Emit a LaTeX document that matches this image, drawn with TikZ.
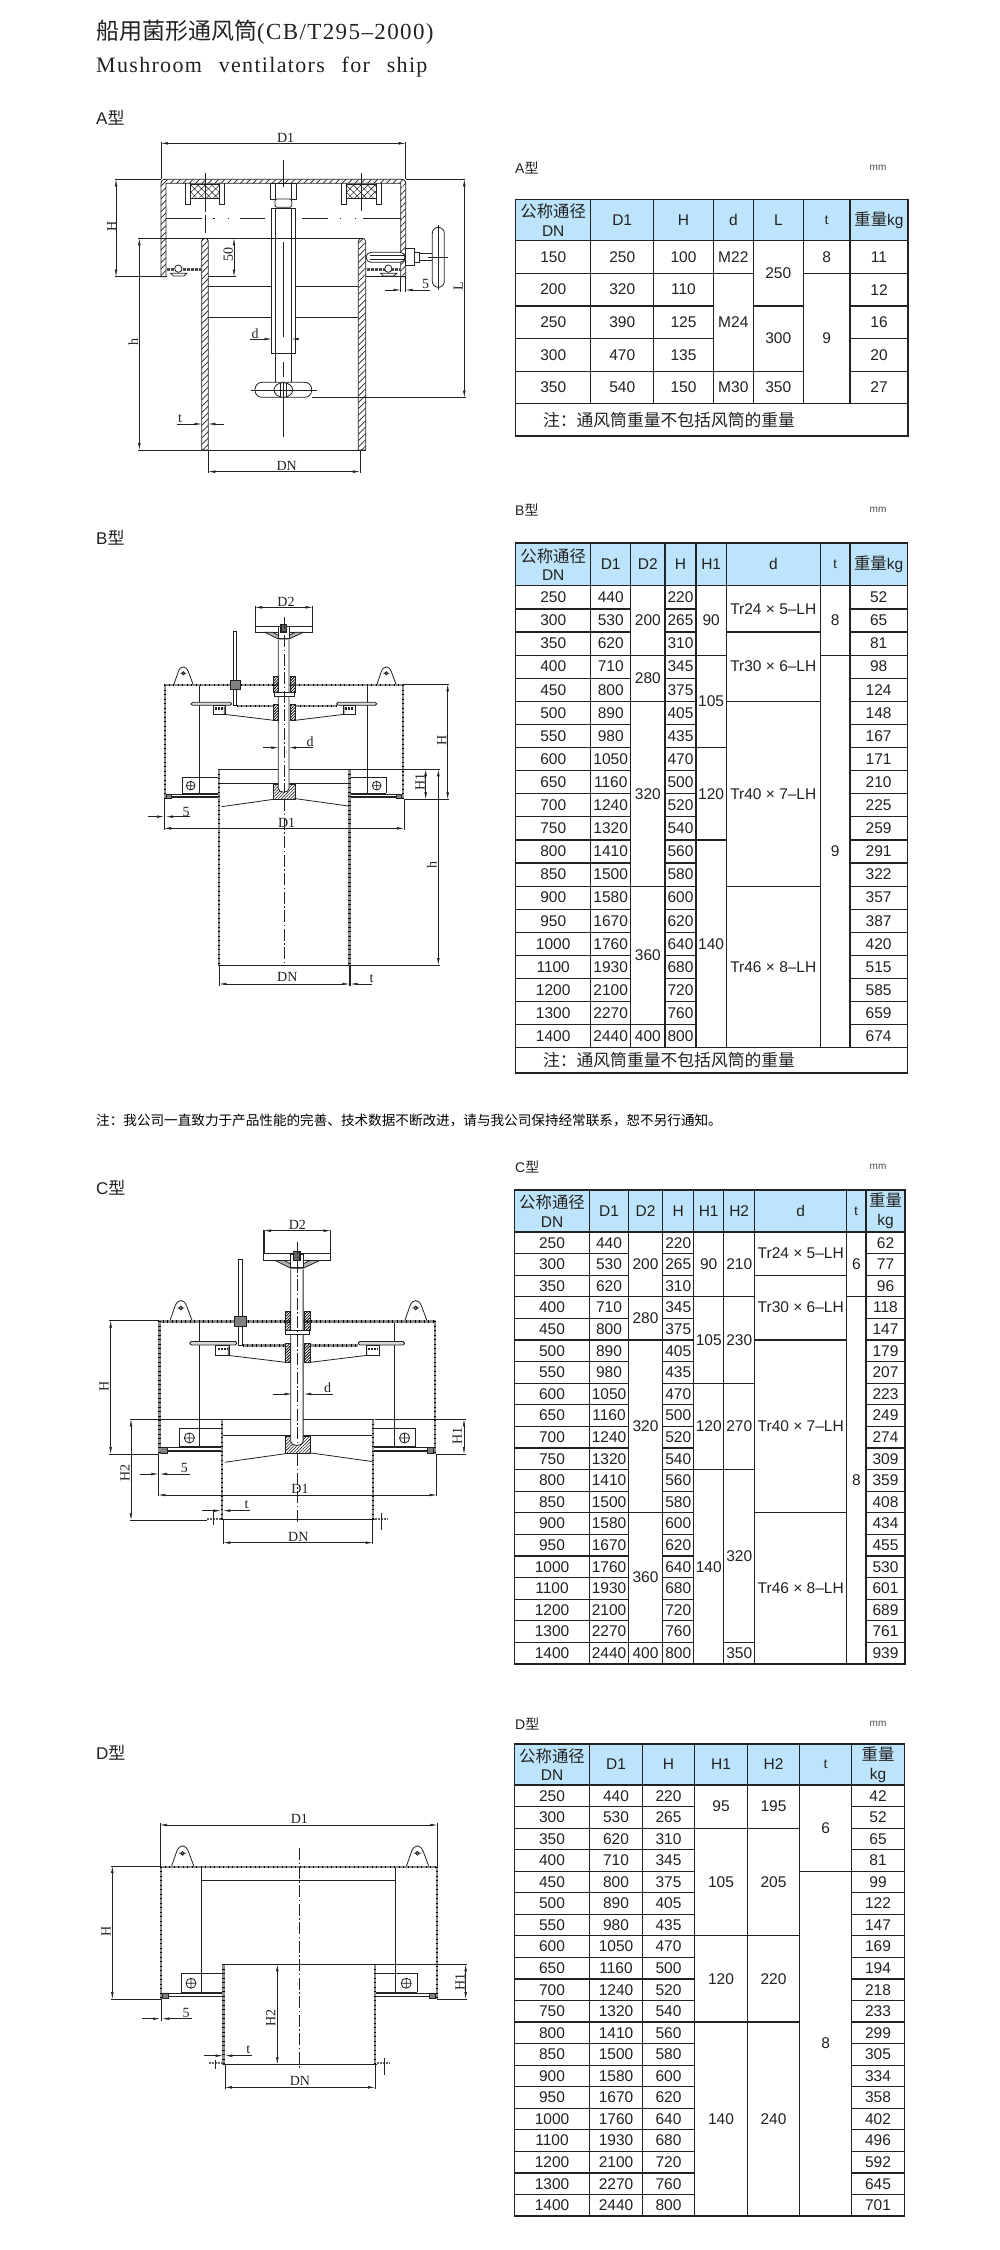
\documentclass[tikz,border=0pt]{standalone}
\usepackage{fontspec}
\usetikzlibrary{arrows.meta,patterns.meta}
\setmainfont{Liberation Sans}
\newfontfamily\cjkf{Noto Sans CJK SC}
\newfontfamily\serf{Liberation Serif}
\newfontfamily\serl[LetterSpace=6]{Liberation Serif}
\definecolor{dk}{HTML}{222222}
\definecolor{hdr}{HTML}{BDE4FA}
\newcommand\hcjk[1]{{\cjkf\fontsize{16.4}{18.5}\selectfont #1}}
\tikzset{
  tcell/.style={draw=dk,line width=1.2pt,inner sep=0pt,outer sep=0pt,align=center,text=dk,
     font=\fontsize{15.5}{18.5}\selectfont},
  ln/.style={line width=.8pt,draw=dk},
  thin1/.style={line width=.5pt,draw=dk},
  dimln/.style={line width=.5pt,draw=dk,{Latex[length=7pt,width=2.6pt]}-{Latex[length=7pt,width=2.6pt]}},
  dimin/.style={line width=.5pt,draw=dk,-{Latex[length=7pt,width=2.6pt]}},
  dimtxt/.style={inner sep=0pt,text=dk,font=\serf\fontsize{14}{14}\selectfont},
  lbl/.style={inner sep=0pt,text=dk,anchor=west,font=\fontsize{17}{17}\selectfont},
  mmt/.style={inner sep=0pt,text=black!70,font=\fontsize{10}{10}\selectfont},
  hatchA/.style={pattern={Lines[angle=45,distance=4.5pt,line width=.7pt]},pattern color=dk},
  hatchB/.style={pattern={Lines[angle=45,distance=2.2pt,line width=.6pt]},pattern color=dk},
  hatchX/.style={pattern={Hatch[angle=45,distance=5pt,line width=.5pt]},pattern color=dk},
  dotfill/.style={pattern={Lines[angle=45,distance=2pt,line width=.8pt]},pattern color=black},
  cline/.style={line width=.5pt,draw=dk,dash pattern=on 12pt off 2.5pt on 1.5pt off 2.5pt},
  wallb/.style={line width=2.3pt,draw=black!45},
  wallt/.style={line width=2.3pt,draw=black,dash pattern=on 1pt off 3.5pt},
}
\newcounter{cellno}
\newcounter{rowpos}
\newcommand\tbox[6][white]{%
  \stepcounter{cellno}%
  \pgfmathsetmacro\bw{#4-(#2)}\pgfmathsetmacro\bh{#5-(#3)}%
  \pgfmathsetmacro\bx{(#2+#4)/2}\pgfmathsetmacro\by{(#3+#5)/2}%
  \node[tcell,fill=#1,minimum width=\bw pt,minimum height=\bh pt] (cell\thecellno) at (\bx,\by) {#6};}
\newcommand\tcellat[4]{%
  \pgfmathsetmacro\xa{\tcols[#1]}\pgfmathsetmacro\xb{\tcols[#1+1]}%
  \pgfmathsetmacro\ya{\tbot+\trow*(#3)}\pgfmathsetmacro\yb{\tbot+\trow*(#3+#2)}%
  \tbox{\xa}{\ya}{\xb}{\yb}{#4}}
\newcommand\thd[2]{%
  \pgfmathsetmacro\xa{\tcols[#1]}\pgfmathsetmacro\xb{\tcols[#1+1]}%
  \tbox[hdr]{\xa}{\ttop}{\xb}{\tbot}{#2}}
\newcommand\tplain[2]{\edef\tmplist{#2}\foreach \txt [count=\ci from 0] in \tmplist {\tcellat{#1}{1}{\ci}{\txt}}}
\newcommand\tspan[2]{\setcounter{rowpos}{0}\foreach \spn/\txt in {#2}{%
  \tcellat{#1}{\spn}{\arabic{rowpos}}{\txt}\addtocounter{rowpos}{\spn}}}
\newcommand\tnotetext[2]{\stepcounter{cellno}\node[inner sep=0pt,text=dk,font=\cjkf\fontsize{16.8}{17}\selectfont] (note\thecellno) at (#1,#2) {注：通风筒重量不包括风筒的重量};}
\newcommand\dl[3]{\stepcounter{cellno}\node[dimtxt] (dl\thecellno) at (#1,#2) {#3};}
\newcommand\dr[3]{\stepcounter{cellno}\node[dimtxt,rotate=90] (dl\thecellno) at (#1,#2) {#3};}
\newcommand\dw[4]{\draw[wallb] (#1,#2)--(#3,#4);\draw[wallt] (#1,#2)--(#3,#4);}
\def\dnlist{250,300,350,400,450,500,550,600,650,700,750,800,850,900,950,1000,1100,1200,1300,1400}
\def\dilist{440,530,620,710,800,890,980,1050,1160,1240,1320,1410,1500,1580,1670,1760,1930,2100,2270,2440}
\def\hlist{220,265,310,345,375,405,435,470,500,520,540,560,580,600,620,640,680,720,760,800}
% hood shared by B, C, D, in the coordinates of drawing B; #1 shell bottom
\newcommand\venthood[1]{%
  \draw[ln] (247,700)--(247,652)--(353,652) (247,700)--(353,700);
  \draw[ln] (858,700)--(858,652)--(752,652) (858,700)--(752,700);
  \draw[ln] (272,677) circle[radius=13] (258,677)--(286,677) (272,663)--(272,691);
  \draw[ln] (830,677) circle[radius=13] (816,677)--(844,677) (830,663)--(830,691);
  \draw[ln] (298,378)--(298,700) (803,378)--(803,700);
  \draw[ln] (198,702)--(353,702) (752,702)--(905,702);
  \draw[line width=1.6pt,draw=dk] (205,711)--(353,711) (752,711)--(900,711);
  \draw[ln,fill=black!50] (198,702) rectangle (214,716) (890,702) rectangle (905,716);
  \foreach \lx in {250,859}{
    \draw[ln] (\lx-29,375)--(\lx-15,335) .. controls (\lx-8,316) and (\lx+8,316) .. (\lx+15,335)--(\lx+30,375);
    \draw[ln] (\lx,340) circle[radius=5] (\lx-9,340)--(\lx+9,340);
  }
  \dw{192}{375}{912}{375}
  \dw{195}{375}{195}{718}
  \dw{909}{375}{909}{718}
  \dw{356.5}{628}{356.5}{#1}
  \dw{748.5}{628}{748.5}{#1}
  \draw[ln] (353,628)--(752,628);
}
% operating gear shared by B, C
\newcommand\ventmech{%
  \draw[ln] (360,671)--(745,671);
  \draw[ln] (365,740)--(520,718) (745,738)--(587,716);
  \draw[ln,hatchB] (520,672) rectangle (587,718);
  \draw[ln,fill=white] (535,240)--(535,686) .. controls (535,700) and (567,700) .. (567,686)--(567,240);
  \draw[ln] (465,138)--(465,217) (638,138)--(638,217);
  \draw[ln] (465,198)--(638,198) (465,217)--(638,217);
  \draw[ln,fill=black!30] (495,217)--(535,237)--(567,237)--(610,217)--(585,217)--(567,226)--(535,226)--(518,217)--cycle;
  \draw[ln,fill=white] (535,200) rectangle (567,236);
  \draw[line width=1.2pt,draw=dk,fill=black!60] (543,194) rectangle (559,216);
  \draw[ln,fill=white] (400,215)--(400,436)--(409,436)--(409,215)--cycle;
  \draw[ln,fill=black!50] (390,361) rectangle (420,387);
  \draw[ln,dotfill] (520,350) rectangle (535,397) (570,350) rectangle (585,397);
  \draw[ln,fill=white] (522,397) rectangle (583,408);
  \dw{410}{437}{522}{437}
  \dw{585}{437}{710}{437}
  \draw[ln,fill=black!15,rounded corners=1.5pt] (273,427) rectangle (395,436);
  \draw[ln,fill=black!15,rounded corners=1.5pt] (710,427) rectangle (830,436);
  \draw[ln,fill=white] (339,437) rectangle (375,463) (730,437) rectangle (766,463);
  \draw[line width=2.4pt,draw=dk,dash pattern=on 2pt off 1pt] (345,446)--(370,446) (736,446)--(761,446);
  \draw[ln] (373,440)--(373,463)--(522,481) (732,440)--(732,463)--(585,481);
  \draw[ln,dotfill] (520,432) rectangle (535,482) (570,432) rectangle (585,482);
  \draw[cline] (552,170)--(552,695);
}
\begin{document}
\begin{tikzpicture}[x=1pt,y=-1pt]
\useasboundingbox (0,0) rectangle (1000,2250);
\fill[white] (0,0) rectangle (1000,2250);
% titles
\node[inner sep=0pt,anchor=west,text=dk] (title1) at (96,32)
  {\cjkf\fontsize{23}{23}\selectfont 船用菌形通风筒\serl\fontsize{23}{23}\selectfont(CB/T295–2000)};
\node[inner sep=0pt,anchor=west,text=dk] (title2) at (96,67)
  {\serl\fontsize{22}{22}\selectfont Mushroom\hspace{10pt} ventilators\hspace{10pt} for\hspace{10pt} ship};
\node[lbl] (la) at (96,118) {A{\cjkf 型}};
\node[lbl] (lb) at (96,538) {B{\cjkf 型}};
\node[lbl] (lc) at (96,1188) {C{\cjkf 型}};
\node[lbl] (ld) at (96,1753) {D{\cjkf 型}};
\node[inner sep=0pt,anchor=west,text=black,font=\cjkf\fontsize{13.6}{14}\selectfont] (globalnote) at (96,1120)
  {注：我公司一直致力于产品性能的完善、技术数据不断改进，请与我公司保持经常联系，恕不另行通知。};
% table captions
\foreach \nm/\ty in {A/168,B/510,C/1167,D/1724}{
  \node[lbl,font=\fontsize{14}{14}\selectfont] (cap\nm) at (515,\ty) {\nm{\cjkf 型}};
  \node[mmt] (mm\nm) at (878,\ty) {mm};
}
% ---------- table A
\def\tcols{{515.7,590.7,653.7,713.3,753.3,803.3,850,908}}
\def\ttop{199.3}\def\tbot{240.7}\def\trow{32.6}
\thd{0}{\hcjk{公称通径}\\DN}\thd{1}{D1}\thd{2}{H}\thd{3}{d}\thd{4}{L}\thd{5}{\serf t}\thd{6}{\hcjk{重量}kg}
\tplain{0}{150,200,250,300,350}
\tplain{1}{250,320,390,470,540}
\tplain{2}{100,110,125,135,150}
\tspan{3}{1/M22,3/M24,1/M30}
\tspan{4}{2/250,2/300,1/350}
\tspan{5}{1/8,4/9}
\tplain{6}{11,12,16,20,27}
\tbox{515.7}{403.7}{908}{436}{}
\tnotetext{669}{420}
% ---------- table B
\def\tcols{{515.7,590.7,630.7,665,696,726.3,820.3,850,907.3}}
\def\ttop{543}\def\tbot{585.8}\def\trow{23.1}
\thd{0}{\hcjk{公称通径}\\DN}\thd{1}{D1}\thd{2}{D2}\thd{3}{H}\thd{4}{H1}\thd{5}{d}\thd{6}{\serf t}\thd{7}{\hcjk{重量}kg}
\tplain{0}{\dnlist}
\tplain{1}{\dilist}
\tspan{2}{3/200,2/280,8/320,6/360,1/400}
\tplain{3}{\hlist}
\tspan{4}{3/90,4/105,4/120,9/140}
\tspan{5}{2/Tr24 × 5–LH,3/Tr30 × 6–LH,8/Tr40 × 7–LH,7/Tr46 × 8–LH}
\tspan{6}{3/8,17/9}
\tplain{7}{52,65,81,98,124,148,167,171,210,225,259,291,322,357,387,420,515,585,659,674}
\tbox{515.7}{1047.8}{907.3}{1073}{}
\tnotetext{669}{1060.5}
% ---------- table C
\def\tcols{{514.3,589.7,628.3,662.7,693.7,723.7,754.7,846.7,866,905}}
\def\ttop{1190}\def\tbot{1232}\def\trow{21.6}
\thd{0}{\hcjk{公称通径}\\DN}\thd{1}{D1}\thd{2}{D2}\thd{3}{H}\thd{4}{H1}\thd{5}{H2}\thd{6}{d}\thd{7}{\serf t}\thd{8}{\hcjk{重量}\\kg}
\tplain{0}{\dnlist}
\tplain{1}{\dilist}
\tspan{2}{3/200,2/280,8/320,6/360,1/400}
\tplain{3}{\hlist}
\tspan{4}{3/90,4/105,4/120,9/140}
\tspan{5}{3/210,4/230,4/270,8/320,1/350}
\tspan{6}{2/Tr24 × 5–LH,3/Tr30 × 6–LH,8/Tr40 × 7–LH,7/Tr46 × 8–LH}
\tspan{7}{3/6,17/8}
\tplain{8}{62,77,96,118,147,179,207,223,249,274,309,359,408,434,455,530,601,689,761,939}
% ---------- table D
\def\tcols{{514.3,589.7,642.3,694.7,747.3,799.7,851.7,904.3}}
\def\ttop{1744}\def\tbot{1785}\def\trow{21.55}
\thd{0}{\hcjk{公称通径}\\DN}\thd{1}{D1}\thd{2}{H}\thd{3}{H1}\thd{4}{H2}\thd{5}{\serf t}\thd{6}{\hcjk{重量}\\kg}
\tplain{0}{\dnlist}
\tplain{1}{\dilist}
\tplain{2}{\hlist}
\tspan{3}{2/95,5/105,4/120,9/140}
\tspan{4}{2/195,5/205,4/220,9/240}
\tspan{5}{4/6,16/8}
\tplain{6}{42,52,65,81,99,122,147,169,194,218,233,299,305,334,358,402,496,592,645,701}
% ---------- drawing A
\begin{scope}[x=.33333pt,y=-.33333pt]
  \draw[ln] (625,860)--(1075,860) (625,953)--(1075,953);
  \draw[thin1] (498,655)--(605,655) (720,655)--(795,655) (905,655)--(985,655) (1090,655)--(1202,655);
  \draw[thin1,dash pattern=on 1.5pt off 13pt] (640,655)--(700,655) (1020,655)--(1070,655);
  % hood
  \draw[ln,hatchA] (483,830)--(483,552) .. controls (483,542) and (487,538) .. (497,538)--(1203,538)
     .. controls (1213,538) and (1217,542) .. (1217,552)--(1217,830)--(1202,830)--(1202,550)--(498,550)--(498,830)--cycle;
  % seal holders
  \draw[ln] (555,550)--(555,612)--(570,612)--(570,550) (657,550)--(657,612)--(672,612)--(672,550);
  \draw[ln,hatchX] (570,553) rectangle (657,595);
  \draw[ln] (1025,550)--(1025,612)--(1040,612)--(1040,550) (1130,550)--(1130,612)--(1145,612)--(1145,550);
  \draw[ln,hatchX] (1040,553) rectangle (1130,595);
  \draw[thin1] (615,520)--(615,635) (615,645)--(615,700) (1085,520)--(1085,632);
  % shell
  \draw[ln,hatchA] (605,1350)--(605,724) .. controls (605,712) and (625,712) .. (625,724)--(625,1350)--cycle;
  \draw[ln,hatchA] (1075,1350)--(1075,724) .. controls (1075,712) and (1097,712) .. (1097,724)--(1097,1350)--cycle;
  % seals
  \draw[line width=3pt,draw=black!70,dash pattern=on 3pt off 1pt] (500,810)--(603,810) (1100,810)--(1200,810);
  \draw[ln,fill=white] (535,806) circle[radius=11] (1165,806) circle[radius=11];
  \draw[ln] (512,820)--(560,820)--(552,828)--(520,828)--cycle (1142,820)--(1190,820)--(1182,828)--(1150,828)--cycle;
  \draw[ln] (1097,830)--(1217,830);
  % central gear
  \draw[ln,fill=white] (827,1060) rectangle (873,1150);
  \draw[ln,fill=white] (815,625) rectangle (887,1060);
  \draw[ln] (827,625)--(827,1060) (875,625)--(875,1060);
  \draw[ln,fill=white] (810,550) rectangle (890,597);
  \draw[ln] (825,550)--(825,597) (875,550)--(875,597);
  \draw[ln,fill=white,rounded corners=2pt] (825,597) rectangle (875,622);
  \draw[ln,fill=white,rounded corners=7pt] (765,1147) rectangle (935,1192);
  \draw[ln,fill=white] (850,1170) ellipse[x radius=28,y radius=22];
  \draw[ln] (840,1150)--(840,1190) (860,1150)--(860,1190);
  \draw[thin1] (752,1170)--(952,1170);
  \draw[thin1] (850,480)--(850,560) (850,725)--(850,1010) (850,1085)--(850,1130) (850,1145)--(850,1310);
  % side handle
  \draw[ln,fill=white] (1258,760) rectangle (1305,782);
  \draw[ln,fill=white,rounded corners=5pt] (1098,757) rectangle (1215,787);
  \draw[ln] (1110,766)--(1215,766) (1110,778)--(1215,778);
  \draw[ln,fill=white] (1215,745) rectangle (1242,795);
  \draw[ln,fill=white] (1242,757) rectangle (1258,787);
  \draw[ln,fill=white,rounded corners=6pt] (1297,682) rectangle (1333,862);
  \draw[thin1] (1315,675)--(1315,870) (1285,772)--(1345,772);
  % dimensions
  \draw[ln] (415,715)--(1090,715) (415,1350)--(1097,1350);
  \draw[thin1] (345,538)--(483,538) (1217,538)--(1395,538);
  \draw[thin1] (345,830)--(500,830) (625,830)--(708,830);
  \draw[thin1] (483,425)--(483,538) (1217,425)--(1217,538) (1217,830)--(1217,875) (1202,830)--(1202,875);
  \draw[thin1] (935,1193)--(1397,1193);
  \draw[dimln] (483,430)--(1217,430);
  \dl{857}{415}{D1}
  \draw[dimln] (348,538)--(348,830);
  \dr{335}{680}{H}
  \draw[dimln] (418,715)--(418,1350);
  \dr{400}{1025}{h}
  \draw[dimln] (702,715)--(702,830);
  \dr{685}{765}{50}
  \draw[dimln] (1393,538)--(1393,1193);
  \dr{1375}{860}{L}
  \draw[dimin] (1155,870)--(1202,870);
  \draw[dimin] (1265,870)--(1217,870);
  \dl{1277}{852}{5}
  \draw[thin1] (1265,870)--(1290,870);
  \draw[dimin] (530,1272)--(605,1272);
  \draw[dimin] (672,1272)--(625,1272);
  \dl{540}{1255}{t}
  \draw[dimin] (750,1017)--(815,1017);
  \draw[dimin] (890,1017)--(875,1017);
  \dl{765}{1000}{d}
  \draw[thin1] (625,1350)--(625,1420) (1080,1350)--(1080,1420);
  \draw[dimln] (625,1415)--(1080,1415);
  \dl{860}{1398}{DN}
\end{scope}
% ---------- drawing B
\begin{scope}[shift={(100,560)},x=.33333pt,y=-.33333pt]
  \venthood{1215}
  \ventmech
  \draw[cline] (552,718)--(552,1215);
  \draw[ln] (353,1215)--(1020,1215);
  \draw[thin1] (752,628)--(1020,628) (912,373)--(1048,373) (912,718)--(1048,718);
  \draw[thin1] (192,718)--(192,810) (912,718)--(912,810);
  \draw[thin1] (358,1215)--(358,1278) (748,1215)--(748,1278) (752,1215)--(752,1278);
  \draw[dimln] (465,142)--(638,142);
  \dl{558}{125}{D2}
  \draw[dimln] (1043,373)--(1043,718);
  \dr{1025}{540}{H}
  \draw[dimln] (977,628)--(977,718);
  \dr{960}{665}{H1}
  \draw[dimln] (1015,628)--(1015,1215);
  \dr{995}{915}{h}
  \draw[dimin] (490,563)--(535,563);
  \draw[dimin] (640,563)--(567,563);
  \dl{630}{545}{d}
  \draw[dimin] (145,770)--(192,770);
  \draw[dimin] (250,770)--(198,770);
  \draw[thin1] (250,770)--(270,770);
  \dl{258}{755}{5}
  \draw[dimln] (192,805)--(912,805);
  \dl{560}{788}{D1}
  \draw[dimln] (358,1272)--(748,1272);
  \dl{562}{1252}{DN}
  \draw[dimin] (815,1272)--(752,1272);
  \dl{815}{1255}{t}
\end{scope}
% ---------- drawing C
\begin{scope}[shift={(297.33,1320.67)},x=.38567pt,y=-.38567pt]
\begin{scope}[shift={(-552,-373)}]
  \venthood{888}
  \ventmech
\end{scope}
\end{scope}
\begin{scope}[shift={(80,1170)},x=.33333pt,y=-.33333pt]
  \draw[cline] (652,852)--(652,1060);
  \draw[line width=1.2pt,draw=dk] (422,1048)--(885,1048);
  \draw[line width=2.2pt,draw=black!60,dash pattern=on 2pt off 1pt] (382,1046)--(422,1046) (885,1046)--(925,1046);
  \draw[thin1] (400,1020)--(400,1065) (905,1028)--(905,1080);
  \draw[thin1] (88,452)--(235,452) (88,852)--(235,852) (150,748)--(422,748) (885,748)--(1158,748) (1068,852)--(1158,852) (150,1050)--(382,1050);
  \draw[thin1] (235,852)--(235,978) (1070,852)--(1070,978);
  \draw[thin1] (430,1050)--(430,1122) (878,1050)--(878,1122);
  \draw[thin1] (552,180)--(552,248) (752,180)--(752,248);
  \draw[dimln] (552,182)--(752,182);
  \dl{652}{165}{D2}
  \draw[dimln] (92,452)--(92,852);
  \dr{72}{650}{H}
  \draw[dimln] (1152,748)--(1152,852);
  \dr{1132}{798}{H1}
  \draw[dimln] (153,748)--(153,1050);
  \dr{135}{910}{H2}
  \draw[dimin] (578,672)--(635,672);
  \draw[dimin] (758,672)--(672,672);
  \dl{743}{653}{d}
  \draw[dimin] (180,912)--(235,912);
  \draw[dimin] (330,912)--(240,912);
  \dl{313}{895}{5}
  \draw[dimln] (235,975)--(1070,975);
  \dl{660}{958}{D1}
  \draw[dimin] (365,1022)--(422,1022);
  \draw[dimin] (510,1022)--(430,1022);
  \dl{500}{1005}{t}
  \draw[dimln] (430,1118)--(878,1118);
  \dl{655}{1100}{DN}
\end{scope}
% ---------- drawing D
\begin{scope}[shift={(299,1866)},x=.38567pt,y=-.38567pt]
\begin{scope}[shift={(-552,-373)}]
  \venthood{888}
  \draw[ln] (298,409)--(803,409);
\end{scope}
\end{scope}
\begin{scope}[shift={(80,1780)},x=.33333pt,y=-.33333pt]
  \draw[cline] (658,205)--(658,865);
  \draw[line width=1.2pt,draw=dk] (428,853)--(890,853);
  \draw[line width=2.2pt,draw=black!60,dash pattern=on 2pt off 1pt] (388,850)--(428,850) (890,850)--(930,850);
  \draw[thin1] (405,840)--(405,868) (912,835)--(912,885);
  \draw[thin1] (240,130)--(240,258) (1072,130)--(1072,258);
  \draw[thin1] (92,258)--(240,258) (92,657)--(243,657) (885,553)--(1162,553) (1072,657)--(1162,657);
  \draw[thin1] (243,657)--(243,722);
  \draw[thin1] (435,853)--(435,928) (885,853)--(885,928);
  \draw[dimln] (240,135)--(1072,135);
  \dl{658}{118}{D1}
  \draw[dimln] (97,258)--(97,657);
  \dr{78}{455}{H}
  \draw[dimln] (1157,553)--(1157,657);
  \dr{1140}{605}{H1}
  \draw[dimln] (592,553)--(592,853);
  \dr{572}{715}{H2}
  \draw[dimin] (185,716)--(240,716);
  \draw[dimin] (335,716)--(247,716);
  \dl{318}{698}{5}
  \draw[dimin] (372,827)--(428,827);
  \draw[dimin] (515,827)--(436,827);
  \dl{505}{810}{t}
  \draw[dimln] (435,922)--(885,922);
  \dl{660}{903}{DN}
\end{scope}
\end{tikzpicture}
\end{document}
